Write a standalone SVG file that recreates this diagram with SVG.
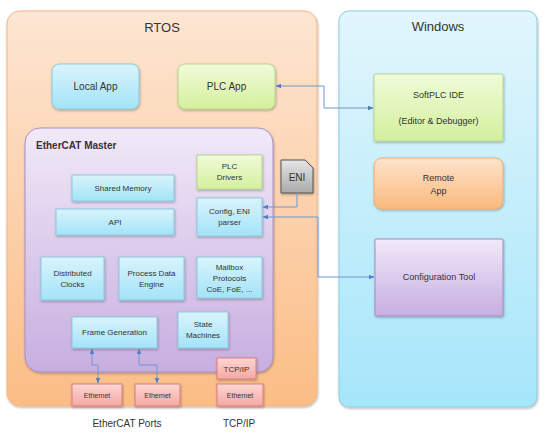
<svg xmlns="http://www.w3.org/2000/svg" width="549" height="440" viewBox="0 0 549 440">
<defs>
<linearGradient id="gOrange" x1="0" y1="0" x2="0" y2="1"><stop offset="0" stop-color="#fde6d3"/><stop offset="1" stop-color="#fbbd85"/></linearGradient>
<linearGradient id="gWin" x1="0" y1="0" x2="0" y2="1"><stop offset="0" stop-color="#e2f6fc"/><stop offset="1" stop-color="#a6e6fa"/></linearGradient>
<linearGradient id="gBlue" x1="0" y1="0" x2="0" y2="1"><stop offset="0" stop-color="#d9f4fc"/><stop offset="1" stop-color="#a3e3f8"/></linearGradient>
<linearGradient id="gGreen" x1="0" y1="0" x2="0" y2="1"><stop offset="0" stop-color="#f1fbd9"/><stop offset="1" stop-color="#d3f09d"/></linearGradient>
<linearGradient id="gPurple" x1="0" y1="0" x2="0" y2="1"><stop offset="0" stop-color="#f1e9f8"/><stop offset="1" stop-color="#c7aee0"/></linearGradient>
<linearGradient id="gRed" x1="0" y1="0" x2="0" y2="1"><stop offset="0" stop-color="#fcd6d2"/><stop offset="1" stop-color="#f5a8a4"/></linearGradient>
<linearGradient id="gOrBox" x1="0" y1="0" x2="0" y2="1"><stop offset="0" stop-color="#fde3cc"/><stop offset="1" stop-color="#fbb97c"/></linearGradient>
<linearGradient id="gGray" x1="0" y1="0" x2="0" y2="1"><stop offset="0" stop-color="#e6e6e6"/><stop offset="1" stop-color="#a9a9a9"/></linearGradient>
<filter id="sh" x="-10%" y="-10%" width="130%" height="140%"><feDropShadow dx="0.6" dy="1.2" stdDeviation="0.8" flood-color="#000" flood-opacity="0.3"/></filter>
<marker id="ah" viewBox="0 0 10 10" refX="9" refY="5" markerWidth="6" markerHeight="6" orient="auto-start-reverse"><path d="M0,1 L10,5 L0,9 z" fill="#4f7fc4"/></marker>
</defs>
<style>
text{font-family:"Liberation Sans",Arial,sans-serif;fill:#333;text-anchor:middle}
.t{font-size:9px}
.s{font-size:8px}
.h{font-size:13px}
.blue{fill:url(#gBlue);stroke:#8cc9dd;stroke-width:1;filter:url(#sh)}
.green{fill:url(#gGreen);stroke:#b6d68c;stroke-width:1;filter:url(#sh)}
.red{fill:url(#gRed);stroke:#e07d7a;stroke-width:1;filter:url(#sh)}
.conn{fill:none;stroke:#6f97cf;stroke-width:1}
</style>
<rect width="549" height="440" fill="#fff"/>
<g id="rtos">
<rect x="7" y="11" width="310" height="395" rx="13" fill="url(#gOrange)" stroke="#f4b583" stroke-width="1" filter="url(#sh)"/>
<text x="162" y="32" class="h">RTOS</text>
</g>
<g id="windows">
<rect x="339" y="11" width="198" height="396" rx="10" fill="url(#gWin)" stroke="#8ecde0" stroke-width="1" filter="url(#sh)"/>
<text x="438" y="31" class="h">Windows</text>
</g>
<g id="local-app">
<rect x="52" y="64" width="87" height="45" rx="7" class="blue"/>
<text x="95.5" y="90" font-size="10">Local App</text>
</g>
<g id="plc-app">
<rect x="178" y="64" width="97" height="45" rx="7" class="green"/>
<text x="226.5" y="90" font-size="10">PLC App</text>
</g>
<g id="softplc-ide">
<rect x="374" y="74" width="129" height="67" rx="1" class="green"/>
<text x="438.5" y="98" class="t">SoftPLC IDE</text>
<text x="438.5" y="124" class="t">(Editor &amp; Debugger)</text>
</g>
<g id="remote-app">
<rect x="374" y="158" width="129" height="51" rx="8" fill="url(#gOrBox)" stroke="#f0ad72" stroke-width="1" filter="url(#sh)"/>
<text x="438.5" y="181" class="t">Remote</text>
<text x="438.5" y="194" class="t">App</text>
</g>
<g id="configuration-tool">
<rect x="375" y="239" width="128" height="77" rx="1" fill="url(#gPurple)" stroke="#a48bc2" stroke-width="1" filter="url(#sh)"/>
<text x="439" y="280" class="t">Configuration Tool</text>
</g>
<g id="ethercat-master">
<rect x="25" y="128" width="248" height="244" rx="15" fill="url(#gPurple)" stroke="#a990c6" stroke-width="1" filter="url(#sh)"/>
<text x="36" y="149" font-size="10" font-weight="bold" style="text-anchor:start">EtherCAT Master</text>
</g>
<g id="shared-memory">
<rect x="72" y="175" width="102" height="26" class="blue"/>
<text x="123" y="191" class="s">Shared Memory</text>
</g>
<g id="api">
<rect x="56" y="209" width="118" height="26" class="blue"/>
<text x="115" y="225" class="s">API</text>
</g>
<g id="plc-drivers">
<rect x="197" y="155" width="65" height="34" class="green"/>
<text x="229.5" y="169" class="s">PLC</text>
<text x="229.5" y="180" class="s">Drivers</text>
</g>
<g id="config-parser">
<rect x="197" y="198" width="65" height="38" class="blue"/>
<text x="229.5" y="214" class="s">Config, ENI</text>
<text x="229.5" y="225" class="s">parser</text>
</g>
<g id="distributed-clocks">
<rect x="41" y="257" width="63" height="43" class="blue"/>
<text x="72.5" y="276" class="s">Distributed</text>
<text x="72.5" y="287" class="s">Clocks</text>
</g>
<g id="process-data-engine">
<rect x="119" y="257" width="65" height="43" class="blue"/>
<text x="151.5" y="276" class="s">Process Data</text>
<text x="151.5" y="287" class="s">Engine</text>
</g>
<g id="mailbox-protocols">
<rect x="197" y="257" width="65" height="41" class="blue"/>
<text x="229.5" y="270" class="s">Mailbox</text>
<text x="229.5" y="281" class="s">Protocols</text>
<text x="229.5" y="292" class="s">CoE, FoE, ...</text>
</g>
<g id="frame-generation">
<rect x="72" y="317" width="85" height="31" class="blue"/>
<text x="114.5" y="335" class="s">Frame Generation</text>
</g>
<g id="state-machines">
<rect x="178" y="312" width="50" height="36" class="blue"/>
<text x="203" y="327" class="s">State</text>
<text x="203" y="338" class="s">Machines</text>
</g>
<g id="tcpip-stack">
<rect x="217" y="358" width="39" height="21" class="red"/>
<text x="236.5" y="371.5" class="s">TCP/IP</text>
</g>
<g id="ethernet-1">
<rect x="72" y="384" width="50" height="22" class="red"/>
<text x="97" y="398" font-size="7">Ethernet</text>
</g>
<g id="ethernet-2">
<rect x="135" y="384" width="45" height="22" class="red"/>
<text x="157.5" y="398" font-size="7">Ethernet</text>
</g>
<g id="ethernet-3">
<rect x="217" y="384" width="46" height="22" class="red"/>
<text x="240" y="398" font-size="7">Ethernet</text>
</g>
<g id="eni-file">
<path d="M281,160 H305 L313,168 V193 H281 Z" fill="url(#gGray)" stroke="#555" stroke-width="1" filter="url(#sh)"/>
<text x="297" y="181" font-size="10">ENI</text>
</g>
<g id="labels">
<text x="127" y="427" font-size="10">EtherCAT Ports</text>
<text x="239" y="427" font-size="10">TCP/IP</text>
</g>
<g id="connectors">
<path class="conn" d="M276,86 H324 V108 H373" marker-start="url(#ah)" marker-end="url(#ah)"/>
<path class="conn" d="M297,193 V207 H263" marker-end="url(#ah)"/>
<path class="conn" d="M263,217 H318 V277 H374" marker-start="url(#ah)" marker-end="url(#ah)"/>
<path class="conn" d="M92,349 V365 H98 V383" marker-start="url(#ah)" marker-end="url(#ah)"/>
<path class="conn" d="M139,349 V365 H157 V383" marker-start="url(#ah)" marker-end="url(#ah)"/>
</g>
</svg>
